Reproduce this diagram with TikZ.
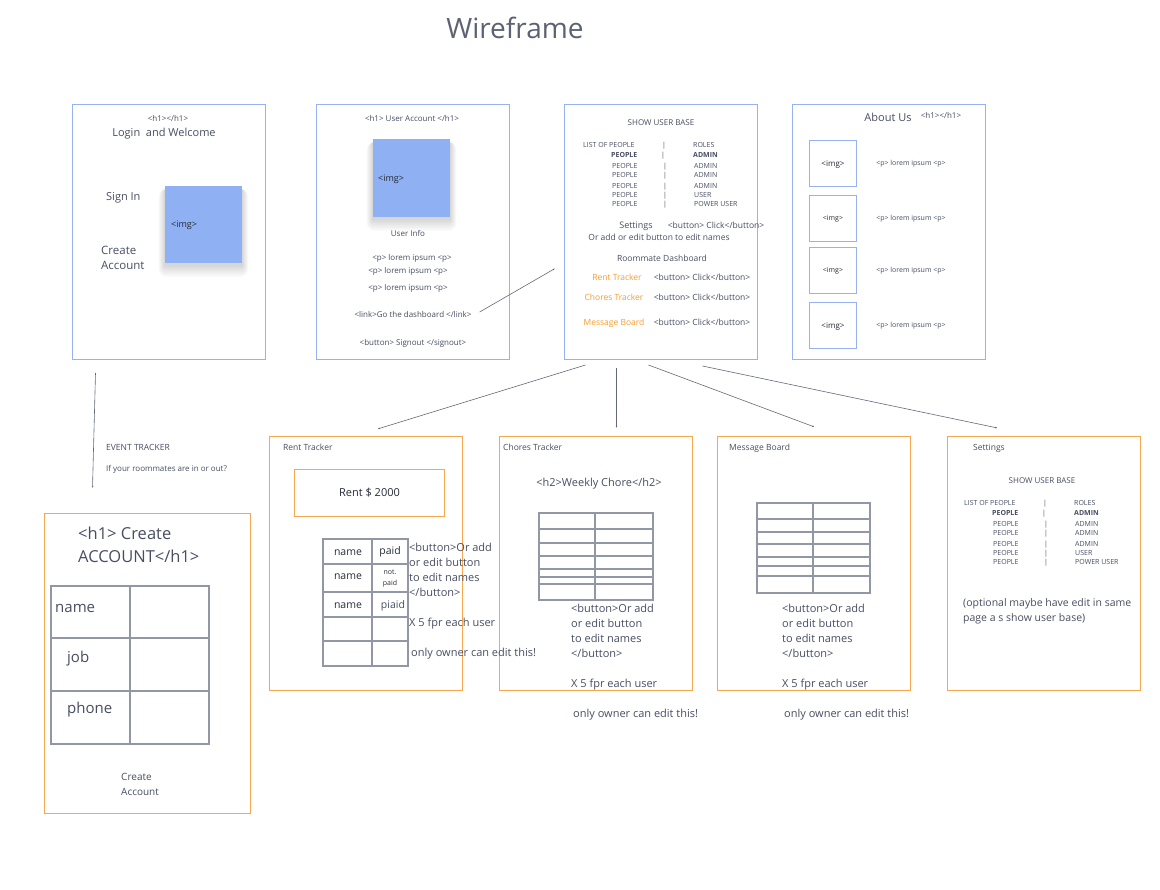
\documentclass[tikz,border=0pt]{standalone}
\usepackage{fontspec}
\setmainfont{Open Sans}
\usetikzlibrary{positioning,arrows.meta}

\definecolor{ink}{RGB}{72,78,98}
\definecolor{darkink}{RGB}{40,44,56}
\definecolor{headink}{RGB}{92,98,114}
\definecolor{pageblue}{RGB}{150,178,240}
\definecolor{imgblue}{RGB}{143,176,242}
\definecolor{pageorange}{RGB}{246,168,80}
\definecolor{linkorange}{RGB}{245,158,50}
\definecolor{gridgray}{RGB}{146,151,166}

\newcommand{\fsz}[2]{\fontsize{#1}{#2}\selectfont}

\tikzset{
  bluepage/.style={draw=pageblue, line width=1pt, anchor=north west, inner sep=0pt,
    minimum width=193pt, minimum height=255pt},
  orangepage/.style={draw=pageorange, line width=1pt, anchor=north west, inner sep=0pt,
    minimum width=193pt, minimum height=254pt},
  imgsq/.style={fill=imgblue, anchor=north west, inner sep=0pt, minimum width=77pt,
    minimum height=77pt},
  softshade/.style={fill=black, opacity=0.018},
  imgbox/.style={draw=pageblue, line width=0.9pt, anchor=north west, inner sep=0pt,
    minimum width=47pt, minimum height=46pt},
  tx/.style={text=ink, inner sep=0pt, text depth=0pt},
  sz/.style={font=\fsz{#1}{#1}, /utils/exec={\pgfmathsetlengthmacro\capht{0.72*#1pt}},
    text height=\capht},
  flow/.style={draw=ink!85, line width=0.6pt, -{Latex[length=2.2pt, width=1.8pt]}},
  grid/.style={draw=gridgray, line width=1.8pt}
}

\begin{document}
\begin{tikzpicture}[x=1pt, y=-1pt]
  \path[fill=white, use as bounding box] (0,0) rectangle (1160,890);

  \node[tx, sz=28, text=headink] (title) at (515,28) {Wireframe};

  % top row of pages
  \node[bluepage] (login) at (72,104) {};
  \node[bluepage] (uacc) at (316,104) {};
  \node[bluepage] (usb) at (564,104) {};
  \node[bluepage] (about) at (792,104) {};

  % bottom row of pages
  \node[orangepage, minimum width=206pt, minimum height=300pt] (cacc) at (44,513) {};
  \node[orangepage] (rent) at (269,436) {};
  \node[orangepage] (chores) at (499,436) {};
  \node[orangepage] (msg) at (717,436) {};
  \node[orangepage] (sett) at (947,436) {};

  % soft shadows under the two pictures
  \foreach \nx/\ny/\nh in {165/186/77, 373/139/78}
    \foreach \s in {1,...,8}
      \fill[softshade, rounded corners=\s pt] ({\nx-0.8*\s},{\ny+3}) rectangle ({\nx+77+0.8*\s},{\ny+\nh+2+1.5*\s});

  % login and welcome
  \node[tx, sz=8] (lgh) at (168,119) {<h1></h1>};
  \node[tx, sz=11] (lgt) at (164,133) {Login\ \ and Welcome};
  \node[tx, sz=11, anchor=west] (lgsign) at (106,197) {Sign In};
  \foreach \ln [count=\j] in {Create, Account}
    \node[tx, sz=11.5, anchor=west] (lgcr\j) at (101,{235+15*\j}) {\ln};
  \node[imgsq] (lgimg) at (165,186) {};
  \node[tx, sz=9, text=darkink, anchor=west] (lgimgtx) at ([xshift=6pt]lgimg.west) {<img>};

  % user account
  \node[tx, sz=8] (uah) at (412,119) {<h1> User Account </h1>};
  \node[imgsq, minimum height=78pt] (uaimg) at (373,139) {};
  \node[tx, sz=9, text=darkink, anchor=west] (uaimgtx) at ([xshift=5pt]uaimg.west) {<img>};
  \node[tx, sz=8] (uainfo) at (408,234) {User Info};
  \foreach \px/\py [count=\j] in {412/258, 408/271, 408/288}
    \node[tx, sz=8] (uap\j) at (\px,\py) {<p> lorem ipsum <p>};
  \node[tx, sz=8] (ualink) at (413,315) {<link>Go the dashboard </link>};
  \node[tx, sz=8] (uaout) at (413,343) {<button> Signout </signout>};

  % user base lists (dashboard and settings)
  \foreach \ox/\oy/\p in {583/145/ub, 964/503/st} {
    \node[tx, sz=8] (\p-title) at (\ox+78,\oy-22) {SHOW USER BASE};
    \node[tx, sz=7, anchor=west] (\p-hl) at (\ox,\oy) {LIST OF PEOPLE};
    \node[tx, sz=7] (\p-hb) at (\ox+81,\oy) {|};
    \node[tx, sz=7, anchor=west] (\p-hr) at (\ox+110,\oy) {ROLES};
    \node[tx, sz=7, anchor=west] (\p-bl) at (\ox+28,\oy+10) {\bfseries PEOPLE};
    \node[tx, sz=7] (\p-bb) at (\ox+80,\oy+10) {|};
    \node[tx, sz=7, anchor=west] (\p-br) at (\ox+110,\oy+10) {\bfseries ADMIN};
    \foreach \dy/\rl [count=\k] in {21/ADMIN, 30/ADMIN, 41/ADMIN, 50/USER, 59/POWER USER} {
      \node[tx, sz=7, anchor=west] (\p-pl\k) at (\ox+29,\oy+\dy) {PEOPLE};
      \node[tx, sz=7] (\p-pb\k) at (\ox+82,\oy+\dy) {|};
      \node[tx, sz=7, anchor=west] (\p-pr\k) at (\ox+111,\oy+\dy) {\rl};
    }
  }

  % dashboard buttons
  \node[tx, sz=9] (ubset) at (636,225) {Settings};
  \node[tx, sz=8.5] (ubsetb) at (716,225) {<button> Click</button>};
  \node[tx, sz=8.5] (ubedit) at (659,237) {Or add or edit button to edit names};
  \node[tx, sz=8.5] (ubdash) at (662,258) {Roommate Dashboard};
  \foreach \lx/\ly/\lb [count=\j] in {617/277/Rent Tracker, 614/297/Chores Tracker, 614/322/Message Board} {
    \node[tx, sz=8.5, text=linkorange] (ubl\j) at (\lx,\ly) {\lb};
    \node[tx, sz=8.5] (ubb\j) at (702,\ly) {<button> Click</button>};
  }

  % about us
  \node[tx, sz=11] (abt) at (888,118) {About Us};
  \node[tx, sz=8] (abh) at (941,116) {<h1></h1>};
  \foreach \yy/\fs [count=\j] in {140/8, 195/7, 247/7, 302/8} {
    \node[imgbox] (abimg\j) at (809,\yy) {};
    \node[tx, sz=\fs, text=darkink] (abimgtx\j) at (abimg\j.center) {<img>};
    \node[tx, sz=7] (abp\j) at ([xshift=78pt]abimg\j.center) {<p> lorem ipsum <p>};
  }

  % event tracker note
  \node[tx, sz=8.5, anchor=west] (evt) at (106,447) {EVENT TRACKER};
  \node[tx, sz=8, anchor=west] (evq) at (106,469) {If your roommates are in or out?};

  % create account
  \node[tx, sz=16.5, anchor=west] (cah1) at (78,534) {<h1> Create};
  \node[tx, sz=16.5, anchor=west] (cah2) at (78,557) {ACCOUNT</h1>};
  \draw[grid] (51,586) rectangle (209,744) (130,586) -- (130,744);
  \foreach \yy in {638,691} \draw[grid] (51,\yy) -- (209,\yy);
  \foreach \fx/\fy/\fl in {55/607/name, 67/657/job, 67/708/phone}
    \node[tx, sz=15, anchor=west] (ca-\fl) at (\fx,\fy) {\fl};
  \foreach \ln [count=\j] in {Create, Account}
    \node[tx, sz=10, anchor=west] (cabtn\j) at (121,{762+15*\j}) {\ln};

  % rent tracker
  \node[tx, sz=8.5, anchor=west] (rtl) at (283,447) {Rent Tracker};
  \node[draw=pageorange, line width=1pt, anchor=north west, minimum width=150pt, minimum height=47pt,
    inner sep=0pt, text=darkink, sz=11] (rtamt) at (294,469) {Rent \$ 2000};
  \draw[grid] (323,539) rectangle (408,666) (372,539) -- (372,666);
  \foreach \yy in {564,592,617,641} \draw[grid] (323,\yy) -- (408,\yy);
  \foreach \cy [count=\k] in {552,576,605}
    \node[tx, sz=10.5, text=darkink] (rtn\k) at (348,\cy) {name};
  \node[tx, sz=10.5, text=darkink] (rtp1) at (390,551) {paid};
  \node[tx, sz=7, text=darkink] (rtp2a) at (390,572) {not.};
  \node[tx, sz=7, text=darkink] (rtp2b) at (390,583) {paid};
  \node[tx, sz=10.5] (rtp3) at (393,605) {piaid};

  % chores tracker
  \node[tx, sz=8.5, anchor=west] (chl) at (503,447) {Chores Tracker};
  \node[tx, sz=11] (chh2) at (599,483) {<h2>Weekly Chore</h2>};
  \draw[grid] (539,513) rectangle (653,600) (595,513) -- (595,600);
  \foreach \yy in {529,543,556,569,577,584} \draw[grid] (539,\yy) -- (653,\yy);

  % message board
  \node[tx, sz=8.5, anchor=west] (mbl) at (729,447) {Message Board};
  \draw[grid] (757,503) rectangle (870,593) (813,503) -- (813,593);
  \foreach \yy in {519,532,544,557,566,576} \draw[grid] (757,\yy) -- (870,\yy);

  % edit notes under the trackers
  \foreach \ox/\oy/\nm in {409/548/rt, 571/609/ch, 782/609/mb} {
    \foreach \ln [count=\j] in {<button>Or add, or edit button, to edit names, </button>}
      \node[tx, sz=11, anchor=west] (\nm-ed\j) at (\ox,{\oy+15*(\j-1)}) {\ln};
    \node[tx, sz=11, anchor=west] (\nm-x5) at (\ox,\oy+75) {X 5 fpr each user};
    \node[tx, sz=11, anchor=west] (\nm-own) at (\ox+2,\oy+105) {only owner can edit this!};
  }

  % settings
  \node[tx, sz=8.5, anchor=west] (stl) at (973,447) {Settings};
  \node[tx, sz=10.5, anchor=west] (stopt1) at (963,603) {(optional maybe have edit in same};
  \node[tx, sz=10.5, anchor=west] (stopt2) at (963,618) {page a s show user base)};

  % connectors
  \draw[flow] ([xshift=8pt, yshift=3pt]ualink.east) -- ([xshift=-9pt, yshift=-36.5pt]usb.west);
  \draw[flow] ([xshift=-73.5pt, yshift=-13pt]login.south) -- ([xshift=-55pt, yshift=25pt]cacc.north);
  \draw[flow] ([xshift=-75.5pt, yshift=-5pt]usb.south) -- ([xshift=11.5pt, yshift=7pt]rent.north);
  \draw[flow] ([xshift=-44.5pt, yshift=-8pt]usb.south) -- ([xshift=20.5pt, yshift=8pt]chores.north);
  \draw[flow] ([xshift=-12.5pt, yshift=-5pt]usb.south) -- ([xshift=0.5pt, yshift=9pt]msg.north);
  \draw[flow] ([xshift=41.5pt, yshift=-6pt]usb.south) -- ([xshift=-46.5pt, yshift=8pt]sett.north);

\end{tikzpicture}
\end{document}
